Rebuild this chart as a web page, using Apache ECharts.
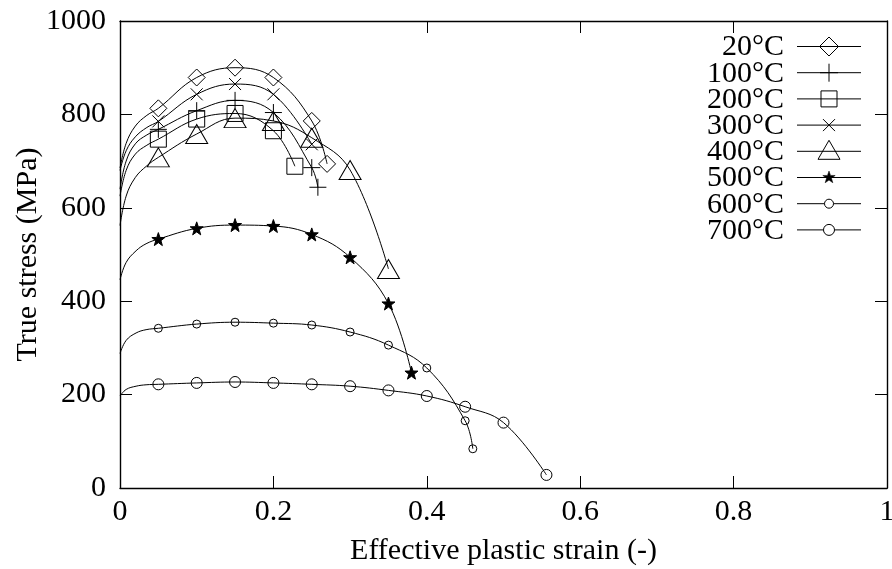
<!DOCTYPE html>
<html>
<head>
<meta charset="utf-8">
<script src="https://cdn.jsdelivr.net/npm/echarts@6/dist/echarts.min.js"></script>
<style>
  html, body { margin: 0; padding: 0; background: #fff; }
  #chart { width: 892px; height: 569px; }
</style>
</head>
<body>
<div id="chart"></div>
<script>
// Test temperatures (legend / series names)
const temps = ['20°C', '100°C', '200°C', '300°C', '400°C', '500°C', '600°C', '700°C'];

// Axis ticks
const strainTicks = [0, 0.2, 0.4, 0.6, 0.8, 1];
const stressTicks = [0, 200, 400, 600, 800, 1000];

// Marked points of each flow curve: effective plastic strain (-) and true stress (MPa)
const markStrain20 = [0.05, 0.10, 0.15, 0.20, 0.25, 0.27];
const markStress20 = [813, 879, 900, 879, 786, 694];
const markStrain100 = [0.05, 0.10, 0.15, 0.20, 0.25, 0.258];
const markStress100 = [768, 808, 830, 804, 686, 644];
const markStrain200 = [0.05, 0.10, 0.15, 0.20, 0.228];
const markStress200 = [747, 790, 802, 765, 689];
const markStrain300 = [0.05, 0.10, 0.15, 0.20, 0.25];
const markStress300 = [785, 843, 865, 843, 736];
const markStrain400 = [0.05, 0.10, 0.15, 0.20, 0.25, 0.30, 0.35];
const markStress400 = [708, 758, 792, 786, 750, 681, 469];
const markStrain500 = [0.05, 0.10, 0.15, 0.20, 0.25, 0.30, 0.35, 0.38];
const markStress500 = [533, 556, 563, 561, 543, 494, 395, 247];
const markStrain600 = [0.05, 0.10, 0.15, 0.20, 0.25, 0.30, 0.35, 0.40, 0.45, 0.46];
const markStress600 = [342, 351, 355, 353, 349, 334, 306, 257, 144, 84];
const markStrain700 = [0.05, 0.10, 0.15, 0.20, 0.25, 0.30, 0.35, 0.40, 0.45, 0.50, 0.556];
const markStress700 = [222, 225, 227, 225, 222, 218, 209, 197, 174, 140, 28];

// Unmarked points along the initial hardening part of each curve
const knotStrain20 = [0, 0.008, 0.02, 0.035];
const knotStress20 = [685, 738, 775, 798];
const knotStrain100 = [0, 0.008, 0.02, 0.035];
const knotStress100 = [640, 700, 737, 756];
const knotStrain200 = [0, 0.008, 0.02, 0.035];
const knotStress200 = [625, 680, 715, 734];
const knotStrain300 = [0, 0.008, 0.02, 0.035];
const knotStress300 = [680, 722, 752, 772];
const knotStrain400 = [0, 0.008, 0.02, 0.035];
const knotStress400 = [562, 625, 665, 690];
const knotStrain500 = [0, 0.008, 0.021, 0.034];
const knotStress500 = [446, 483, 508, 523];
const knotStrain600 = [0, 0.008, 0.021, 0.034];
const knotStress600 = [288, 316, 332, 339];
const knotStrain700 = [0, 0.008, 0.021, 0.034];
const knotStress700 = [197, 211, 218, 221];

const curves = [
  [markStrain20, markStress20, knotStrain20, knotStress20],
  [markStrain100, markStress100, knotStrain100, knotStress100],
  [markStrain200, markStress200, knotStrain200, knotStress200],
  [markStrain300, markStress300, knotStrain300, knotStress300],
  [markStrain400, markStress400, knotStrain400, knotStress400],
  [markStrain500, markStress500, knotStrain500, knotStress500],
  [markStrain600, markStress600, knotStrain600, knotStress600],
  [markStrain700, markStress700, knotStrain700, knotStress700]
];

// Marker shapes (open outlines except the filled star)
const STAR = 'path://M5,0L6.18,3.38L9.76,3.45L6.9,5.62L7.94,9.05L5,7L2.06,9.05L3.1,5.62L0.24,3.45L3.82,3.38Z';
const markerStyles = [
  { symbol: 'diamond', size: 17, fill: 'rgba(0,0,0,0)' },
  { symbol: 'path://M0,5L10,5M5,0L5,10', size: 17, fill: 'rgba(0,0,0,0)' },
  { symbol: 'rect', size: 16, fill: 'rgba(0,0,0,0)' },
  { symbol: 'path://M0,0L10,10M10,0L0,10', size: 12, fill: 'rgba(0,0,0,0)' },
  { symbol: 'triangle', size: [22, 19], fill: 'rgba(0,0,0,0)' },
  { symbol: STAR, size: 13, fill: '#000' },
  { symbol: 'circle', size: 8, fill: 'rgba(0,0,0,0)' },
  { symbol: 'circle', size: 11, fill: 'rgba(0,0,0,0)' }
];

const FONT = 'Liberation Serif';
const FS = 30;

function buildData(ms, mv, ks, kv) {
  const pts = [];
  ms.forEach((x, i) => pts.push({ value: [x, mv[i]] }));
  ks.forEach((x, i) => pts.push({ value: [x, kv[i]], symbol: 'none', symbolSize: 0 }));
  pts.sort((a, b) => a.value[0] - b.value[0]);
  return pts;
}

const series = curves.map((c, i) => ({
  name: temps[i],
  type: 'line',
  xAxisIndex: 0,
  yAxisIndex: 0,
  smooth: 0.4,
  symbol: markerStyles[i].symbol,
  symbolSize: markerStyles[i].size,
  showSymbol: true,
  lineStyle: { color: '#000', width: 1 },
  itemStyle: { color: markerStyles[i].fill, borderColor: '#000', borderWidth: 1 },
  emphasis: { disabled: true },
  silent: true,
  data: buildData(c[0], c[1], c[2], c[3])
}));

// Legend drawn in the upper right corner: right-aligned label, line sample, marker
const legendGraphics = [];
const LX_TEXT = 784, LX0 = 797, LX1 = 861, LXC = 829;
temps.forEach((t, i) => {
  const cy = 46.5 + i * 26.2;
  const stroke = { stroke: '#000', fill: 'none', lineWidth: 1 };
  legendGraphics.push({
    type: 'text', silent: true,
    style: { text: t, x: LX_TEXT, y: cy + 1, fill: '#000', font: FS + 'px "' + FONT + '"',
             align: 'right', verticalAlign: 'middle', textAlign: 'right', textVerticalAlign: 'middle' }
  });
  legendGraphics.push({ type: 'line', silent: true, shape: { x1: LX0, y1: cy, x2: LX1, y2: cy }, style: stroke });
  let sym;
  switch (i) {
    case 0: sym = [{ type: 'polygon', shape: { points: [[LXC, cy - 9.5], [LXC + 9.5, cy], [LXC, cy + 9.5], [LXC - 9.5, cy]] }, style: stroke }]; break;
    case 1: sym = [
      { type: 'line', shape: { x1: LXC - 9, y1: cy, x2: LXC + 9, y2: cy }, style: stroke },
      { type: 'line', shape: { x1: LXC, y1: cy - 9, x2: LXC, y2: cy + 9 }, style: stroke }]; break;
    case 2: sym = [{ type: 'rect', shape: { x: LXC - 8, y: cy - 8, width: 16, height: 16 }, style: stroke }]; break;
    case 3: sym = [
      { type: 'line', shape: { x1: LXC - 6, y1: cy - 6, x2: LXC + 6, y2: cy + 6 }, style: stroke },
      { type: 'line', shape: { x1: LXC - 6, y1: cy + 6, x2: LXC + 6, y2: cy - 6 }, style: stroke }]; break;
    case 4: sym = [{ type: 'polygon', shape: { points: [[LXC, cy - 11], [LXC + 11, cy + 8], [LXC - 11, cy + 8]] }, style: stroke }]; break;
    case 5: {
      const pts = [];
      for (let k = 0; k < 10; k++) {
        const r = k % 2 === 0 ? 6.5 : 2.6;
        const a = -Math.PI / 2 + k * Math.PI / 5;
        pts.push([LXC + r * Math.cos(a), cy + r * Math.sin(a)]);
      }
      sym = [{ type: 'polygon', shape: { points: pts }, style: { fill: '#000', stroke: '#000', lineWidth: 0.5 } }];
      break;
    }
    case 6: sym = [{ type: 'circle', shape: { cx: LXC, cy: cy, r: 4.5 }, style: { stroke: '#000', fill: '#fff', lineWidth: 1 } }]; break;
    case 7: sym = [{ type: 'circle', shape: { cx: LXC, cy: cy, r: 5.5 }, style: { stroke: '#000', fill: '#fff', lineWidth: 1 } }]; break;
  }
  sym.forEach(s => { s.silent = true; legendGraphics.push(s); });
});

const axisText = { color: '#000', fontFamily: FONT, fontSize: FS };

function xAxisDef(pos, labels) {
  return {
    type: 'value', position: pos,
    min: strainTicks[0], max: strainTicks[strainTicks.length - 1], interval: strainTicks[1] - strainTicks[0],
    axisLine: { show: true, onZero: false, lineStyle: { color: '#000', width: 1.4 } },
    axisTick: { show: true, inside: true, length: 12, lineStyle: { color: '#000', width: 1 } },
    axisLabel: Object.assign({ show: labels, margin: 9, formatter: v => String(v) }, axisText),
    splitLine: { show: false },
    name: labels ? 'Effective plastic strain (-)' : '',
    nameLocation: 'middle', nameGap: 48, nameMoveOverlap: false,
    nameTextStyle: axisText
  };
}
function yAxisDef(pos, labels) {
  return {
    type: 'value', position: pos,
    min: stressTicks[0], max: stressTicks[stressTicks.length - 1], interval: stressTicks[1] - stressTicks[0],
    axisLine: { show: true, onZero: false, lineStyle: { color: '#000', width: 1.4 } },
    axisTick: { show: true, inside: true, length: 12, lineStyle: { color: '#000', width: 1 } },
    axisLabel: Object.assign({ show: labels, margin: 14, formatter: v => String(v) }, axisText),
    splitLine: { show: false },
    name: labels ? 'True stress (MPa)' : '',
    nameLocation: 'middle', nameGap: 77, nameRotate: 90, nameMoveOverlap: false,
    nameTextStyle: axisText
  };
}

const chart = echarts.init(document.getElementById('chart'), null, { renderer: 'canvas' });
chart.setOption({
  animation: false,
  backgroundColor: '#fff',
  grid: { left: 120, right: 5, top: 21, bottom: 81, containLabel: false, outerBoundsMode: 'none' },
  xAxis: [xAxisDef('bottom', true), xAxisDef('top', false)],
  yAxis: [yAxisDef('left', true), yAxisDef('right', false)],
  series: series,
  graphic: legendGraphics
});
</script>
</body>
</html>
